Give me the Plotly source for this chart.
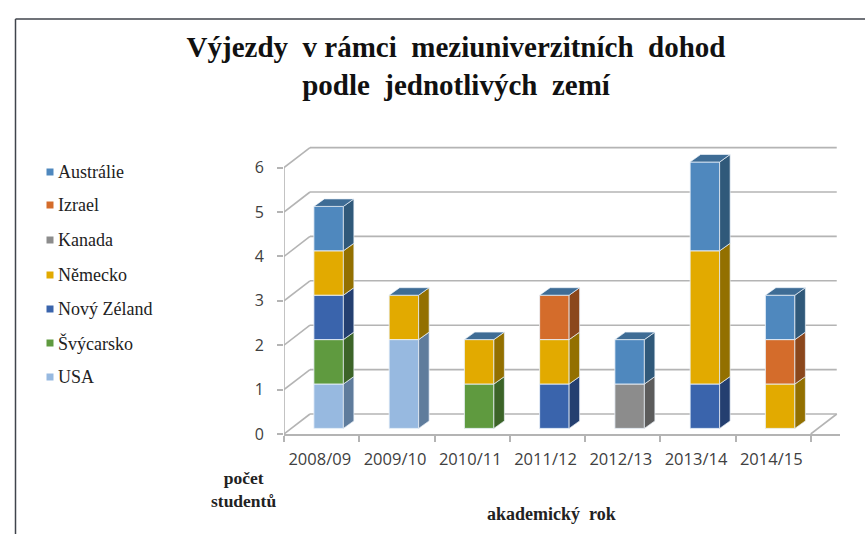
import plotly.graph_objects as go

years = ["2008/09", "2009/10", "2010/11", "2011/12", "2012/13", "2013/14", "2014/15"]
series_names = ["USA", "Švýcarsko", "Nový Zéland", "Německo", "Kanada", "Izrael", "Austrálie"]
usa = [1, 2, 0, 0, 0, 0, 0]
svycarsko = [1, 0, 1, 0, 0, 0, 0]
novy_zeland = [1, 0, 0, 1, 0, 1, 0]
nemecko = [1, 1, 1, 1, 0, 3, 1]
kanada = [0, 0, 0, 0, 1, 0, 0]
izrael = [0, 0, 0, 1, 0, 0, 1]
australie = [1, 0, 0, 0, 1, 2, 1]
series_values = [usa, svycarsko, novy_zeland, nemecko, kanada, izrael, australie]
front_colors = ["#97B9E0", "#5F9A3F", "#3A64AC", "#E2AA00", "#8C8C8C", "#D46C2B", "#4F88BE"]
side_colors = ["#5F7C9C", "#3C6428", "#243F70", "#937000", "#5C5C5C", "#8B471C", "#30597A"]
top_color = "#3E6C95"
y_ticks = [0, 1, 2, 3, 4, 5, 6]
legend_order = ["Austrálie", "Izrael", "Kanada", "Německo", "Nový Zéland", "Švýcarsko", "USA"]

W, H = 865, 534
X_LEFT, X_STEP, X_RIGHT = 284, 75.25, 839.7
Y_ZERO, Y_STEP, Y_MAX = 434, 44.4, 6.5
GRID = "#B4B4B4"

# oblique projection offsets, in axis units
wall_dx, wall_dy = 26 / X_STEP, 20 / Y_STEP
bar_dx, bar_dy = 7 / X_STEP, 5.6 / Y_STEP
bar_w = 29.5 / X_STEP
depth_dx, depth_dy = 10.5 / X_STEP, 7.5 / Y_STEP

fig = go.Figure()
n = len(years)
cum = [0] * n
for name, vals, fc, sc in zip(series_names, series_values, front_colors, side_colors):
    xs, ys, bases, heights = [], [], [], []
    sx, sy = [], []
    for i, v in enumerate(vals):
        if not v:
            continue
        xc = i + bar_dx
        b = cum[i] + bar_dy
        xs.append(xc)
        bases.append(b)
        heights.append(v)
        r = xc + bar_w / 2
        sx += [r, r + depth_dx, r + depth_dx, r, r, None]
        sy += [b, b + depth_dy, b + v + depth_dy, b + v, b, None]
        cum[i] += v
    fig.add_trace(go.Bar(x=xs, y=heights, base=bases, width=bar_w, name=name,
                         marker=dict(color=fc, line=dict(color="rgba(235,242,250,0.85)", width=1)),
                         showlegend=False))
    fig.add_trace(go.Scatter(x=sx, y=sy, mode="lines", fill="toself", fillcolor=sc,
                             line=dict(color="rgba(235,242,250,0.7)", width=1),
                             hoverinfo="skip", showlegend=False))

tx, ty = [], []
for i, total in enumerate(cum):
    l = i + bar_dx - bar_w / 2
    r = l + bar_w
    b = total + bar_dy
    tx += [l, l + depth_dx, r + depth_dx, r, l, None]
    ty += [b, b + depth_dy, b + depth_dy, b, b, None]
fig.add_trace(go.Scatter(x=tx, y=ty, mode="lines", fill="toself", fillcolor=top_color,
                         line=dict(color="rgba(235,242,250,0.7)", width=1),
                         hoverinfo="skip", showlegend=False))

shapes = []
x0 = -0.5
x_front_end = n - 0.5
grid_line = dict(color=GRID, width=1.6)
for v in y_ticks:
    shapes.append(dict(type="line", xref="x", yref="y", x0=x0 + wall_dx, x1=x_front_end + wall_dx,
                       y0=v + wall_dy, y1=v + wall_dy, line=grid_line, layer="below"))
    shapes.append(dict(type="line", xref="x", yref="y", x0=x0, x1=x0 + wall_dx,
                       y0=v, y1=v + wall_dy, line=grid_line, layer="below"))
shapes.append(dict(type="line", xref="x", yref="y", x0=x0, x1=x0, y0=0, y1=max(y_ticks),
                   line=grid_line, layer="below"))
shapes.append(dict(type="line", xref="x", yref="y", x0=x_front_end, x1=x_front_end + wall_dx,
                   y0=0, y1=wall_dy, line=grid_line, layer="below"))
# frame
frame = dict(color="#40444C", width=1.5)
shapes.append(dict(type="line", xref="paper", yref="paper", x0=15.5 / W, x1=1,
                   y0=1 - 19 / H, y1=1 - 19 / H, line=frame))
shapes.append(dict(type="line", xref="paper", yref="paper", x0=15.5 / W, x1=15.5 / W,
                   y0=0, y1=1 - 19 / H, line=frame))

annotations = []
serif = "Liberation Serif"
leg_y = [172, 205, 240, 275, 309, 343, 377]
for name, py in zip(legend_order, leg_y):
    col = front_colors[series_names.index(name)]
    annotations.append(dict(text=name, xref="paper", yref="paper", x=56 / W, y=1 - py / H,
                            xanchor="left", yanchor="middle", showarrow=False,
                            font=dict(family=serif, size=18, color="#222222")))
    shapes.append(dict(type="rect", xref="paper", yref="paper", x0=46.5 / W, x1=53.5 / W,
                       y0=1 - (py + 3.5) / H, y1=1 - (py - 3.5) / H,
                       fillcolor=col, line=dict(width=0)))
annotations.append(dict(text="<b>počet<br>studentů</b>", xref="paper", yref="paper", x=243.5 / W, y=1 - 489 / H,
                        xanchor="center", yanchor="middle", showarrow=False, align="center",
                        font=dict(family=serif, size=17.5, color="#222222")))
annotations.append(dict(text="<b>akademický\u00a0\u00a0rok</b>", xref="paper", yref="paper", x=551 / W, y=1 - 514 / H,
                        xanchor="center", yanchor="middle", showarrow=False,
                        font=dict(family=serif, size=18, color="#222222")))

fig.update_layout(
    width=W, height=H, margin=dict(l=0, r=0, t=0, b=0, pad=0, autoexpand=False),
    paper_bgcolor="white", plot_bgcolor="rgba(0,0,0,0)",
    barmode="overlay", showlegend=False,
    title=dict(text="<b>Výjezdy\u00a0 v rámci\u00a0 meziuniverzitních\u00a0 dohod<br>podle\u00a0 jednotlivých\u00a0 zemí</b>",
               x=456 / W, xanchor="center", y=1 - 57 / H, yanchor="top",
               font=dict(family=serif, size=29, color="#111111")),
    xaxis=dict(domain=[X_LEFT / W, X_RIGHT / W], range=[x0, (X_RIGHT - X_LEFT) / X_STEP - 0.5],
               tickmode="array", tickvals=[i - 0.025 for i in range(n)], ticktext=years, ticks="",
               showgrid=False, zeroline=False, showline=True, linecolor=GRID, linewidth=1.6,
               ticklabelstandoff=9,
               minor=dict(tickmode="array", tickvals=[i - 0.5 for i in range(n + 1)],
                          ticks="outside", ticklen=6, tickwidth=1.5, tickcolor=GRID, showgrid=False),
               tickfont=dict(family="Open Sans", size=16.5, color="#404040")),
    yaxis=dict(domain=[1 - Y_ZERO / H, 1 - (Y_ZERO - Y_MAX * Y_STEP) / H], range=[0, Y_MAX],
               tickmode="array", tickvals=y_ticks, ticks="outside", ticklen=6, tickwidth=1.5,
               tickcolor=GRID, showgrid=False, zeroline=False, showline=False, ticklabelstandoff=10,
               tickfont=dict(family="Open Sans", size=16, color="#404040")),
    shapes=shapes, annotations=annotations,
)
fig.write_html("out.html", config={"displayModeBar": False, "responsive": False},
               post_script="document.body.style.margin='0';document.documentElement.style.overflow='hidden';")
